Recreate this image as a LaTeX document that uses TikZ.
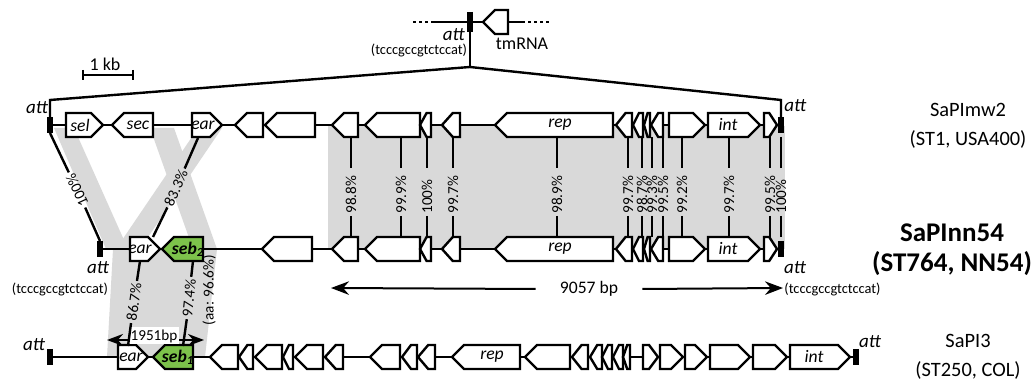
\documentclass[tikz,border=0pt]{standalone}
\usepackage{fontspec}
\setmainfont{Carlito}
\usepackage{tikz}
\usetikzlibrary{arrows.meta}
\definecolor{HomGray}{HTML}{D9D9D9}
\definecolor{SebGreen}{HTML}{7DC24B}

\tikzset{
  orf/.style={draw=black, line width=1.2pt, line join=miter},
  bb/.style={line width=1.2pt},
  attbar/.style={line width=2.6pt},
  idline/.style={line width=1.2pt},
  pct/.style={font=\fontsize{7.6}{8.5}\selectfont, inner sep=1pt},
  glab/.style={font=\fontsize{8.8}{10}\selectfont\itshape, inner sep=0pt},
  tag/.style={font=\fontsize{9.5}{11}\selectfont\itshape, inner sep=0.5pt},
  seq/.style={font=\fontsize{7.2}{8}\selectfont, inner sep=0.5pt},
  plain/.style={font=\fontsize{9}{10}\selectfont, inner sep=0.5pt},
  island/.style={font=\fontsize{10.2}{14.5}\selectfont, align=center},
  islandbold/.style={font=\fontsize{13.5}{15}\selectfont\bfseries, align=center},
}

% right- and left-pointing genes: [fill]{start}{end}{y}
\newcommand{\orfR}[4][white]{%
  \pgfmathsetmacro{\tipw}{min(12,0.6*(#3-#2))}%
  \draw[orf, fill=#1] (#2,#4-12) -- (#3-\tipw,#4-12) -- (#3,#4) -- (#3-\tipw,#4+12) -- (#2,#4+12) -- cycle;}
\newcommand{\orfL}[4][white]{%
  \pgfmathsetmacro{\tipw}{min(12,0.6*(#3-#2))}%
  \draw[orf, fill=#1] (#2,#4) -- (#2+\tipw,#4-12) -- (#3,#4-12) -- (#3,#4+12) -- (#2+\tipw,#4+12) -- cycle;}

\begin{document}
\begin{tikzpicture}[x=0.5pt, y=-0.5pt]
  \useasboundingbox (0,0) rectangle (1034,384);

  % homology shading
  \fill[HomGray] (328,126) rectangle (785,249);
  \fill[HomGray] (54,128) -- (74,128) -- (128,249) -- (106,249) -- cycle;
  \fill[HomGray] (150,128) -- (174,128) -- (217,249) -- (193,249) -- cycle;
  \fill[HomGray] (198,128) -- (222,128) -- (140,249) -- (116,249) -- cycle;
  \fill[HomGray] (113,249) -- (217,249) -- (205,357) -- (107,357) -- cycle;

  % chromosome with tmRNA
  \draw[bb, dash pattern=on 1.5pt off 1.5pt] (413,22) -- (432,22);
  \draw[bb] (432,22) -- (483,22);
  \draw[bb] (508,22) -- (522,22);
  \draw[bb, dash pattern=on 1.5pt off 1.5pt] (522,22) -- (550,22);
  \orfL{483}{508}{22}
  \draw[attbar] (470,12) -- (470,32);
  \draw[bb] (470,32) -- (470,67);
  \draw[bb] (50,117) -- (50,100) -- (470,67) -- (781,100) -- (781,117);
  \node[tag, anchor=east] (attTop) at (466,35) {att};
  \node[seq] (seqTop) at (419,50) {(tcccgccgtctccat)};
  \node[plain] (tmrnaLab) at (522,44) {tmRNA};

  % scale bar
  \draw[bb] (83,75) -- (133,75);
  \draw[bb] (83,70) -- (83,80);
  \draw[bb] (133,70) -- (133,80);
  \node[plain] (kbLab) at (105,64) {1 kb};

  % backbones
  \draw[bb] (50,125) -- (781,125);
  \draw[bb] (100,249) -- (781,249);
  \draw[bb] (50,357) -- (856,357);

  % SaPImw2
  \orfR{66}{103}{125}
  \orfL{112}{153}{125}
  \orfR{192}{222}{125}
  \foreach \a/\b in {235/263, 265/315} {\orfL{\a}{\b}{125}}
  % SaPInn54
  \orfR{130}{160}{249}
  \orfL[SebGreen]{162}{203}{249}
  \orfL{262}{312}{249}
  % shared part of both islands
  \foreach \y in {125, 249} {
    \foreach \a/\b in {332/358, 365/420, 420/431, 442/460, 495/613, 616/632, 633/643, 644/650, 651/663} {\orfL{\a}{\b}{\y}}
    \foreach \a/\b in {669/705, 708/760, 764/777} {\orfR{\a}{\b}{\y}}
  }
  % SaPI3
  \orfR{118}{148}{357}
  \orfL[SebGreen]{153}{193}{357}
  \foreach \a/\b in {210/238, 239/253, 255/282, 283/293, 295/323, 325/343, 370/400, 402/417, 418/435, 452/520, 525/570, 572/588, 590/602, 602/612, 613/623, 623/630} {\orfL{\a}{\b}{357}}
  \foreach \a/\b in {643/658, 660/683, 685/707, 710/750, 753/787, 790/850} {\orfR{\a}{\b}{357}}

  % att sites
  \draw[attbar] (50,117) -- (50,133);
  \draw[attbar] (781,117) -- (781,133);
  \draw[attbar] (100,241) -- (100,257);
  \draw[attbar] (781,241) -- (781,257);
  \draw[attbar] (50,349) -- (50,365);
  \draw[attbar] (856,349) -- (856,365);
  \node[tag] (attMwL) at (37,108) {att};
  \node[tag, anchor=west] (attMwR) at (783,106) {att};
  \node[tag] (attNnL) at (98,268) {att};
  \node[seq] (seqNnL) at (60,289) {(tcccgccgtctccat)};
  \node[tag] (attNnR) at (795,268) {att};
  \node[seq, anchor=west] (seqNnR) at (783,289) {(tcccgccgtctccat)};
  \node[tag] (att3L) at (34,345) {att};
  \node[tag] (att3R) at (870,342) {att};

  % gene names
  \node[glab] (selLab) at (80,125) {sel};
  \node[glab] (secLab) at (138,125) {sec};
  \node[glab] (earMw) at (203,125) {ear};
  \node[glab] (repMw) at (560,125) {rep};
  \node[glab] (intMw) at (728,125) {int};
  \node[glab] (earNn) at (140,249) {ear};
  \node[glab, font=\fontsize{8.8}{10}\selectfont\bfseries\itshape] (sebNn) at (188,249) {seb\textsubscript{2}};
  \node[glab] (repNn) at (560,249) {rep};
  \node[glab] (intNn) at (728,249) {int};
  \node[glab] (ear3) at (131,357) {ear};
  \node[glab, font=\fontsize{8.8}{10}\selectfont\bfseries\itshape] (seb3) at (178,357) {seb\textsubscript{1}};
  \node[glab] (rep3) at (492,357) {rep};
  \node[glab] (int3) at (814,357) {int};

  % identities SaPImw2 / SaPInn54
  \foreach \x/\p in {351/98.8, 401/99.9, 427/100, 453/99.7, 557/98.9, 628/99.7, 642/98.7, 652/99.3, 663/99.5, 682/99.2, 729/99.7, 770/99.5, 781/100} {
    \draw[idline] (\x,137) -- (\x,168);
    \node[pct, rotate=90, anchor=west] (id\x) at (\x,216) {\p\%};
    \draw[idline] (id\x.west) -- (\x,237);
  }
  \coordinate (mwAttB) at (50,133);
  \coordinate (nnAttT) at (100,241);
  \node[pct, rotate=115] (id100L) at (77,190) {100\%};
  \draw[idline] (mwAttB) -- (id100L.east);
  \draw[idline] (id100L.west) -- (nnAttT);
  \coordinate (mwEarB) at (198,138);
  \coordinate (nnEarT) at (153,237);
  \node[pct, rotate=66] (id833) at (176,188) {83.3\%};
  \draw[idline] (mwEarB) -- (id833.east);
  \draw[idline] (id833.west) -- (nnEarT);

  % SaPInn54 / SaPI3
  \coordinate (bpA) at (107,340);
  \coordinate (bpB) at (204,340);
  \draw[line width=1.1pt, {Stealth[length=8pt]}-{Stealth[length=8pt]}] (bpA) -- (bpB);
  \node[pct, fill=white] (bp1951) at (154,336) {1951bp};
  \coordinate (nnEarB) at (140,261);
  \coordinate (earT3) at (128,346);
  \node[pct, rotate=82] (id867) at (134,302) {86.7\%};
  \draw[idline] (nnEarB) -- (id867.east);
  \draw[idline] (id867.west) -- (earT3);
  \coordinate (nnSebB) at (193,261);
  \coordinate (sebT3) at (183,346);
  \node[pct, rotate=84] (id974) at (189,298) {97.4\%};
  \draw[idline] (nnSebB) -- (id974.east);
  \draw[idline] (id974.west) -- (sebT3);
  \node[pct, rotate=90] (idaa) at (209,290) {(aa: 96.6\%)};

  % length of SaPInn54 core
  \coordinate (bpL) at (331,288);
  \coordinate (bpR) at (783,288);
  \node[font=\fontsize{8.8}{10}\selectfont, inner xsep=12pt] (bp9057) at (589,289) {9057 bp};
  \draw[line width=1pt, -{Stealth[length=9pt]}] (bp9057.west) -- (bpL);
  \draw[line width=1pt, -{Stealth[length=9pt]}] (bp9057.east) -- (bpR);

  % island names
  \node[island] (mwName) at (968,126) {SaPImw2\\(ST1, USA400)};
  \node[islandbold] (nnName) at (952,250) {SaPInn54\\(ST764, NN54)};
  \node[island] (i3Name) at (968,357) {SaPI3\\(ST250, COL)};
\end{tikzpicture}
\end{document}
